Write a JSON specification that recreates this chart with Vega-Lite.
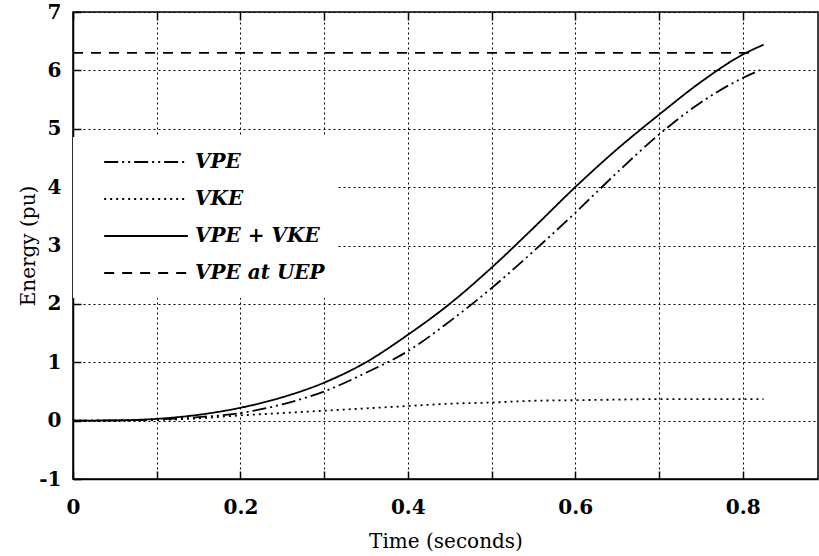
{
  "$schema": "https://vega.github.io/schema/vega-lite/v6.json",
  "width": 745,
  "height": 467,
  "autosize": {"type": "none"},
  "padding": {"left": 73, "top": 12, "right": 1, "bottom": 77},
  "background": "white",
  "config": {
    "view": {"stroke": "black", "strokeWidth": 1.5},
    "font": "DejaVu Serif",
    "axis": {
      "domainColor": "black", "domainWidth": 1.5,
      "tickColor": "black", "tickWidth": 1.5, "tickSize": -8,
      "gridColor": "black", "gridOpacity": 1, "gridDash": [2, 3], "gridWidth": 1,
      "labelFont": "DejaVu Serif", "labelFontWeight": "bold", "labelFontSize": 20, "labelColor": "black",
      "titleFont": "DejaVu Serif", "titleFontWeight": "normal", "titleFontSize": 20, "titleColor": "black"
    }
  },
  "data": {"values": [
    {"t": 0, "E": 0, "s": "VPE"}, {"t": 0.05, "E": 0.003, "s": "VPE"}, {"t": 0.1, "E": 0.02, "s": "VPE"},
    {"t": 0.15, "E": 0.06, "s": "VPE"}, {"t": 0.2, "E": 0.13, "s": "VPE"}, {"t": 0.25, "E": 0.28, "s": "VPE"},
    {"t": 0.3, "E": 0.5, "s": "VPE"}, {"t": 0.35, "E": 0.82, "s": "VPE"}, {"t": 0.4, "E": 1.19, "s": "VPE"},
    {"t": 0.45, "E": 1.7, "s": "VPE"}, {"t": 0.5, "E": 2.27, "s": "VPE"}, {"t": 0.55, "E": 2.9, "s": "VPE"},
    {"t": 0.6, "E": 3.56, "s": "VPE"}, {"t": 0.65, "E": 4.25, "s": "VPE"}, {"t": 0.7, "E": 4.9, "s": "VPE"},
    {"t": 0.75, "E": 5.45, "s": "VPE"}, {"t": 0.8, "E": 5.87, "s": "VPE"}, {"t": 0.825, "E": 6.03, "s": "VPE"},
    {"t": 0, "E": 0, "s": "VKE"}, {"t": 0.05, "E": 0.002, "s": "VKE"}, {"t": 0.1, "E": 0.01, "s": "VKE"},
    {"t": 0.15, "E": 0.04, "s": "VKE"}, {"t": 0.2, "E": 0.09, "s": "VKE"}, {"t": 0.25, "E": 0.13, "s": "VKE"},
    {"t": 0.3, "E": 0.17, "s": "VKE"}, {"t": 0.35, "E": 0.21, "s": "VKE"}, {"t": 0.4, "E": 0.25, "s": "VKE"},
    {"t": 0.45, "E": 0.29, "s": "VKE"}, {"t": 0.5, "E": 0.31, "s": "VKE"}, {"t": 0.55, "E": 0.34, "s": "VKE"},
    {"t": 0.6, "E": 0.35, "s": "VKE"}, {"t": 0.65, "E": 0.36, "s": "VKE"}, {"t": 0.7, "E": 0.37, "s": "VKE"},
    {"t": 0.75, "E": 0.37, "s": "VKE"}, {"t": 0.8, "E": 0.37, "s": "VKE"}, {"t": 0.825, "E": 0.37, "s": "VKE"},
    {"t": 0, "E": 0, "s": "VPE + VKE"}, {"t": 0.05, "E": 0.005, "s": "VPE + VKE"}, {"t": 0.1, "E": 0.03, "s": "VPE + VKE"},
    {"t": 0.15, "E": 0.1, "s": "VPE + VKE"}, {"t": 0.2, "E": 0.22, "s": "VPE + VKE"}, {"t": 0.25, "E": 0.4, "s": "VPE + VKE"},
    {"t": 0.3, "E": 0.65, "s": "VPE + VKE"}, {"t": 0.35, "E": 1.0, "s": "VPE + VKE"}, {"t": 0.4, "E": 1.47, "s": "VPE + VKE"},
    {"t": 0.45, "E": 2.0, "s": "VPE + VKE"}, {"t": 0.5, "E": 2.62, "s": "VPE + VKE"}, {"t": 0.55, "E": 3.3, "s": "VPE + VKE"},
    {"t": 0.6, "E": 4.0, "s": "VPE + VKE"}, {"t": 0.65, "E": 4.65, "s": "VPE + VKE"}, {"t": 0.7, "E": 5.24, "s": "VPE + VKE"},
    {"t": 0.75, "E": 5.8, "s": "VPE + VKE"}, {"t": 0.8, "E": 6.27, "s": "VPE + VKE"}, {"t": 0.825, "E": 6.44, "s": "VPE + VKE"},
    {"t": 0, "E": 6.3, "s": "VPE at UEP"}, {"t": 0.81, "E": 6.3, "s": "VPE at UEP"}
  ]},
  "layer": [
    {
      "mark": {"type": "line", "color": "black", "strokeWidth": 1.8, "clip": true, "interpolate": "monotone"},
      "encoding": {
        "x": {
          "field": "t", "type": "quantitative",
          "scale": {"domain": [0, 0.89], "nice": false, "zero": false},
          "axis": {
            "title": "Time  (seconds)", "titlePadding": 14,
            "values": [0, 0.1, 0.2, 0.3, 0.4, 0.5, 0.6, 0.7, 0.8],
            "labelExpr": "round(datum.value * 10) % 2 == 0 ? format(datum.value, '~g') : ''",
            "labelPadding": 26, "labelFlush": false
          }
        },
        "y": {
          "field": "E", "type": "quantitative",
          "scale": {"domain": [-1, 7], "nice": false},
          "axis": {
            "title": "Energy (pu)", "titlePadding": 0,
            "values": [-1, 0, 1, 2, 3, 4, 5, 6, 7],
            "labelExpr": "replace(format(datum.value, '~g'), '−', '-')",
            "labelPadding": 20, "labelFlush": false
          }
        },
        "strokeDash": {
          "field": "s", "type": "nominal",
          "scale": {
            "domain": ["VPE", "VKE", "VPE + VKE", "VPE at UEP"],
            "range": [[14, 4, 2, 4, 2, 4], [2, 4], [1, 0], [10, 8]]
          },
          "legend": {
            "title": null, "orient": "none", "legendX": 0, "legendY": 125,
            "fillColor": "white", "padding": 12,
            "symbolType": "stroke", "symbolSize": 7000, "symbolStrokeWidth": 1.8,
            "symbolStrokeColor": "black", "symbolOffset": 18,
            "clipHeight": 26,
            "labelFont": "DejaVu Serif", "labelFontStyle": "italic", "labelFontWeight": "bold",
            "labelFontSize": 20, "labelColor": "black", "labelOffset": 6,
            "rowPadding": 11
          }
        }
      }
    },
    {
      "mark": {"type": "line", "opacity": 0},
      "encoding": {
        "x": {
          "field": "t", "type": "quantitative",
          "axis": {
            "orient": "top", "title": null, "labels": false, "grid": false, "domain": false,
            "values": [0, 0.1, 0.2, 0.3, 0.4, 0.5, 0.6, 0.7, 0.8]
          }
        },
        "y": {"field": "E", "type": "quantitative"}
      }
    }
  ],
  "resolve": {"axis": {"x": "independent"}}
}
